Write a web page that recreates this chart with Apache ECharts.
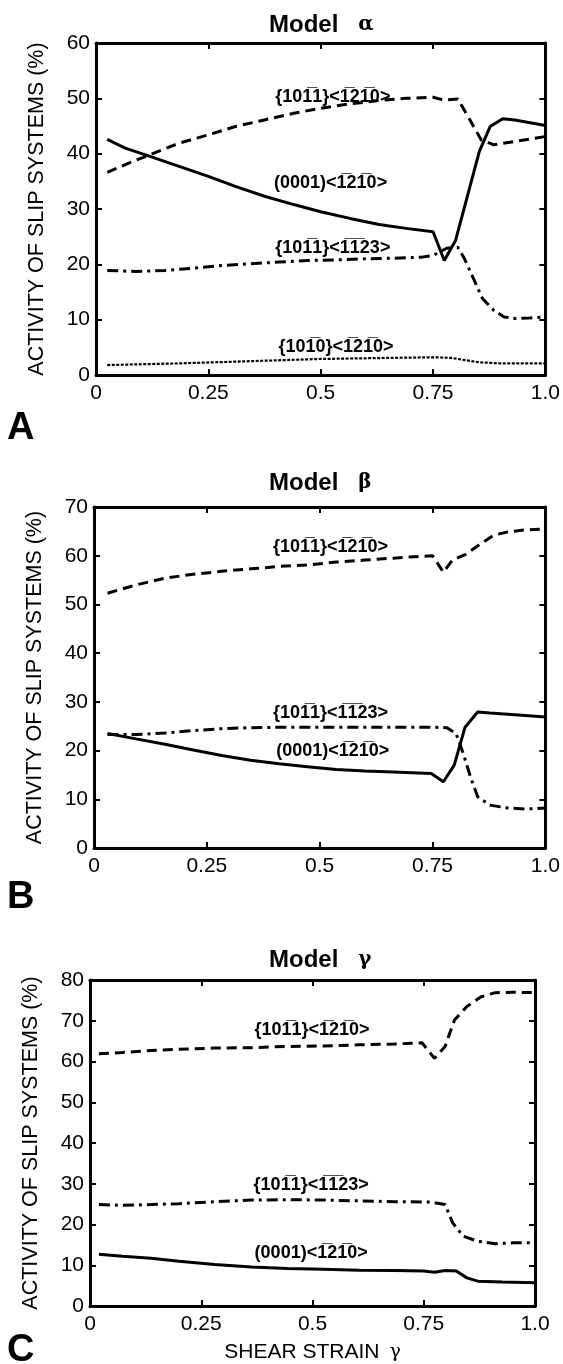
<!DOCTYPE html>
<html>
<head>
<meta charset="utf-8">
<script src="https://cdn.jsdelivr.net/npm/echarts@6/dist/echarts.min.js"></script>
<style>
  html, body { margin: 0; padding: 0; background: #fff; }
  #chart { width: 563px; height: 1364px; }
</style>
</head>
<body>
<div id="chart"></div>
<script>
// strain values are x, activity (%) is y
const alphaBasal = [[0.025,42.6],[0.065,41.0],[0.12,39.5],[0.185,37.7],[0.25,35.9],[0.31,34.1],[0.375,32.3],[0.44,30.8],[0.50,29.5],[0.565,28.3],[0.63,27.2],[0.69,26.5],[0.75,25.9],[0.775,20.7],[0.80,24.3],[0.853,40.4],[0.877,44.9],[0.905,46.3],[0.932,46.1],[1.0,45.1]];
const alphaPyrA = [[0.025,36.6],[0.073,38.3],[0.12,39.8],[0.185,41.9],[0.25,43.4],[0.31,44.9],[0.375,46.1],[0.44,47.3],[0.50,48.2],[0.565,49.0],[0.63,49.6],[0.69,50.0],[0.75,50.2],[0.773,49.7],[0.805,49.9],[0.83,46.4],[0.857,42.5],[0.885,41.6],[0.932,42.2],[1.0,43.1]];
const alphaPyrCA = [[0.025,18.9],[0.089,18.7],[0.153,18.9],[0.216,19.3],[0.28,19.8],[0.344,20.1],[0.407,20.4],[0.47,20.7],[0.535,20.8],[0.598,21.0],[0.66,21.1],[0.725,21.3],[0.75,21.6],[0.78,22.9],[0.805,23.1],[0.82,21.0],[0.84,17.4],[0.86,13.8],[0.885,11.7],[0.908,10.5],[0.932,10.2],[0.964,10.3],[1.0,10.5]];
const alphaPrism = [[0.025,1.8],[0.185,2.1],[0.344,2.5],[0.50,2.9],[0.66,3.1],[0.75,3.2],[0.79,3.1],[0.82,2.7],[0.853,2.3],[0.90,2.1],[1.0,2.1]];

const betaPyrA = [[0.03,52.3],[0.093,54.0],[0.157,55.4],[0.22,56.2],[0.283,56.8],[0.347,57.3],[0.41,57.8],[0.473,58.1],[0.537,58.7],[0.60,59.1],[0.663,59.5],[0.71,59.8],[0.75,60.0],[0.774,56.6],[0.794,59.1],[0.822,60.2],[0.853,62.2],[0.885,64.2],[0.917,64.9],[0.956,65.3],[1.0,65.5]];
const betaPyrCA = [[0.03,23.3],[0.093,23.3],[0.157,23.6],[0.22,24.1],[0.283,24.5],[0.347,24.7],[0.426,24.8],[0.505,24.8],[0.584,24.8],[0.663,24.8],[0.75,24.8],[0.782,24.7],[0.802,23.5],[0.818,19.4],[0.834,14.6],[0.85,10.5],[0.877,8.8],[0.917,8.2],[0.956,8.0],[1.0,8.2]];
const betaBasal = [[0.03,23.5],[0.093,22.4],[0.157,21.3],[0.22,20.1],[0.283,19.0],[0.347,18.0],[0.41,17.3],[0.473,16.7],[0.537,16.1],[0.60,15.8],[0.663,15.6],[0.747,15.3],[0.774,13.6],[0.798,17.0],[0.822,24.8],[0.85,27.9],[0.877,27.7],[0.925,27.4],[1.0,26.9]];

const gammaPyrA = [[0.02,61.9],[0.073,62.2],[0.137,62.7],[0.20,63.0],[0.28,63.3],[0.363,63.4],[0.444,63.7],[0.524,63.8],[0.605,64.1],[0.685,64.3],[0.746,64.6],[0.774,60.8],[0.798,63.7],[0.819,70.2],[0.847,73.5],[0.879,75.9],[0.911,76.9],[0.952,77.0],[1.0,76.9]];
const gammaPyrCA = [[0.02,24.9],[0.073,24.7],[0.137,24.9],[0.20,25.1],[0.28,25.6],[0.363,26.0],[0.444,26.1],[0.524,26.0],[0.605,25.8],[0.685,25.6],[0.766,25.5],[0.798,24.9],[0.815,20.4],[0.839,17.1],[0.871,15.9],[0.911,15.3],[0.952,15.5],[1.0,15.5]];
const gammaBasal = [[0.02,12.7],[0.073,12.2],[0.137,11.7],[0.20,11.0],[0.28,10.2],[0.363,9.6],[0.444,9.2],[0.524,9.0],[0.605,8.8],[0.685,8.7],[0.75,8.6],[0.774,8.3],[0.798,8.7],[0.823,8.6],[0.847,6.9],[0.871,6.1],[0.927,5.9],[1.0,5.7]];

const yMax = [60, 70, 80];
const xTicks = ['0', '0.25', '0.5', '0.75', '1.0'];
const panelNames = ['α', 'β', 'γ'];
const panelLetters = ['A', 'B', 'C'];

// slip system names, \u0305 puts the bar over the digit before it
const B = '1\u0305';
const nameBasal = '(0001)<' + B + '2' + B + '0>';
const namePyrA = '{10' + B + '1}<' + B + '2' + B + '0>';
const namePyrCA = '{10' + B + '1}<' + B + B + '23>';
const namePrism = '{10' + B + '0}<' + B + '2' + B + '0>';

// where the curve names sit, in data units
const labelsAlpha = [[namePyrA, 0.527, 50.2], [nameBasal, 0.522, 34.7], [namePyrCA, 0.527, 23.0], [namePrism, 0.534, 5.1]];
const labelsBeta = [[namePyrA, 0.524, 61.8], [namePyrCA, 0.524, 27.8], [nameBasal, 0.529, 20.0]];
const labelsGamma = [[namePyrA, 0.499, 67.7], [namePyrCA, 0.497, 29.7], [nameBasal, 0.497, 13.0]];

const grids = [
  { left: 96, top: 43, width: 452, height: 332 },
  { left: 94, top: 507, width: 454, height: 341 },
  { left: 90, top: 980, width: 445, height: 326 },
];

const FONT = '"Liberation Sans", Arial, Helvetica, sans-serif';
const axisLine = { show: true, onZero: false, lineStyle: { color: '#000', width: 3 } };
const axisTick = { show: true, inside: true, length: 6, lineStyle: { color: '#000', width: 2 } };

const xAxes = [];
const yAxes = [];
grids.forEach((g, i) => {
  const bottom = {
    gridIndex: i, type: 'value', min: 0, max: 1, interval: 0.25, position: 'bottom',
    axisLine, axisTick, splitLine: { show: false },
    axisLabel: {
      color: '#000', fontFamily: FONT, fontSize: 21, margin: 8,
      formatter: (v) => xTicks[Math.round(v / 0.25)],
    },
  };
  if (i === 2) {
    bottom.name = '{t|SHEAR STRAIN}   {g|γ}';
    bottom.nameLocation = 'middle';
    bottom.nameGap = 36;
    bottom.nameTextStyle = {
      rich: {
        t: { fontFamily: FONT, fontSize: 21, color: '#000' },
        g: { fontFamily: '"DejaVu Serif", serif', fontSize: 19, color: '#000' },
      },
    };
  }
  xAxes.push(bottom);
  xAxes.push({
    gridIndex: i, type: 'value', min: 0, max: 1, interval: 0.25, position: 'top',
    axisLine, axisTick, axisLabel: { show: false }, splitLine: { show: false },
  });
  yAxes.push({
    gridIndex: i, type: 'value', min: 0, max: yMax[i], interval: 10, position: 'left',
    axisLine, axisTick, splitLine: { show: false },
    axisLabel: { color: '#000', fontFamily: FONT, fontSize: 21, margin: 6 },
    name: 'ACTIVITY OF SLIP SYSTEMS (%)', nameLocation: 'middle', nameRotate: 90, nameGap: 48,
    nameTextStyle: { color: '#000', fontFamily: FONT, fontSize: 21.5 },
  });
  yAxes.push({
    gridIndex: i, type: 'value', min: 0, max: yMax[i], interval: 10, position: 'right',
    axisLine, axisTick, axisLabel: { show: false }, splitLine: { show: false },
  });
});

const solid = { color: '#000', width: 3, type: 'solid' };
const dashed = { color: '#000', width: 3, type: [10, 6] };
const dashDot = { color: '#000', width: 3, type: [11, 5, 3, 5] };
const dotted = { color: '#000', width: 2.2, type: [3, 1.5] };

function line(panel, data, style) {
  return {
    type: 'line', xAxisIndex: panel * 2, yAxisIndex: panel * 2, data,
    showSymbol: false, symbol: 'none', smooth: false, lineStyle: style,
    animation: false, silent: true,
  };
}

function names(panel, list) {
  return {
    type: 'scatter', xAxisIndex: panel * 2, yAxisIndex: panel * 2,
    symbolSize: 0, itemStyle: { color: '#000', opacity: 1 }, animation: false, silent: true,
    data: list.map((l) => ({ value: [l[1], l[2]], name: l[0] })),
    label: {
      show: true, position: 'inside', formatter: (p) => p.name, opacity: 1,
      color: '#000', fontFamily: FONT, fontWeight: 'bold', fontSize: 18,
      textBorderWidth: 0,
    },
  };
}

const series = [
  line(0, alphaBasal, solid), line(0, alphaPyrA, dashed), line(0, alphaPyrCA, dashDot), line(0, alphaPrism, dotted),
  line(1, betaPyrA, dashed), line(1, betaPyrCA, dashDot), line(1, betaBasal, solid),
  line(2, gammaPyrA, dashed), line(2, gammaPyrCA, dashDot), line(2, gammaBasal, solid),
  names(0, labelsAlpha), names(1, labelsBeta), names(2, labelsGamma),
];

const titleTops = [8, 466, 943];
const letterTops = [410, 879, 1332];

const option = {
  backgroundColor: '#fff',
  animation: false,
  title: titleTops.map((t, i) => ({
    text: '{m|Model}    {g|' + panelNames[i] + '}',
    left: 264, top: t,
    textStyle: {
      rich: {
        m: { fontFamily: FONT, fontWeight: 'bold', fontSize: 24, color: '#000' },
        g: { fontFamily: '"DejaVu Serif", serif', fontSize: 20, color: '#000' },
      },
    },
  })),
  graphic: letterTops.map((t, i) => ({
    type: 'text', left: 7, top: t,
    style: { text: panelLetters[i], fill: '#000', font: 'bold 38px ' + FONT },
  })),
  grid: grids,
  xAxis: xAxes,
  yAxis: yAxes,
  series,
};

const chart = echarts.init(document.getElementById('chart'), null, { renderer: 'canvas' });
chart.setOption(option);
</script>
</body>
</html>
